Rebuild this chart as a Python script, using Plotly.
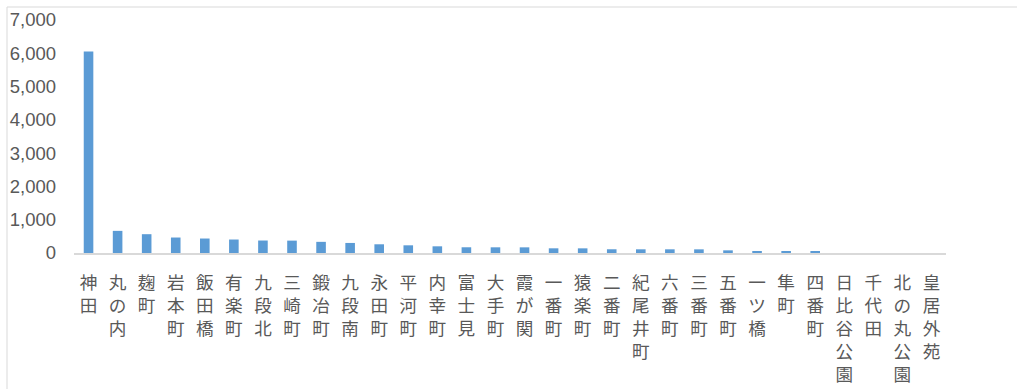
import plotly.graph_objects as go

categories = ["神田", "丸の内", "麹町", "岩本町", "飯田橋", "有楽町", "九段北", "三崎町", "鍛冶町", "九段南",
              "永田町", "平河町", "内幸町", "富士見", "大手町", "霞が関", "一番町", "猿楽町", "二番町", "紀尾井町",
              "六番町", "三番町", "五番町", "一ツ橋", "隼町", "四番町", "日比谷公園", "千代田", "北の丸公園", "皇居外苑"]
values = [6050, 665, 565, 465, 435, 405, 375, 372, 335, 302,
          262, 231, 201, 172, 171, 170, 141, 140, 112, 111,
          111, 110, 80, 50, 50, 50, 0, 0, 0, 0]
y_ticks = [0, 1000, 2000, 3000, 4000, 5000, 6000, 7000]

ticktext = ["<br>".join(c) for c in categories]

fig = go.Figure(go.Bar(x=categories, y=values, marker=dict(color="#5B9BD5", line=dict(width=0)),
                       width=0.33))

L, R, T, B = 74, 71, 20, 136
W, H = 1017, 389
pw, ph = W - L - R, H - T - B

fig.update_layout(
    width=W, height=H,
    margin=dict(l=L, r=R, t=T, b=B, autoexpand=False),
    plot_bgcolor="white", paper_bgcolor="white",
    showlegend=False,
    font=dict(family="Noto Sans CJK JP", color="#595959"),
    xaxis=dict(tickmode="array", tickvals=categories, ticktext=ticktext, automargin=False,
               tickangle=0, showgrid=False, showline=True, linecolor="#d9d9d9", linewidth=2,
               ticks="", ticklabelstandoff=13,
               tickfont=dict(size=17.6, family="Noto Sans CJK JP", color="#595959")),
    yaxis=dict(range=[0, 7000], tickvals=y_ticks, tickformat=",d", showgrid=False, automargin=False,
               showline=False, zeroline=False, ticks="", ticklabelstandoff=17,
               tickfont=dict(size=18.5, family="Liberation Sans", color="#595959")),
    shapes=[dict(type="rect", xref="paper", yref="paper",
                 x0=(7 - L) / pw, x1=(W + 5 - L) / pw,
                 y0=-(H + 5 - (H - B)) / ph, y1=1 + (T - 7) / ph,
                 line=dict(color="#d9d9d9", width=1), fillcolor="rgba(0,0,0,0)", layer="below")],
)

fig.write_html("out.html")
